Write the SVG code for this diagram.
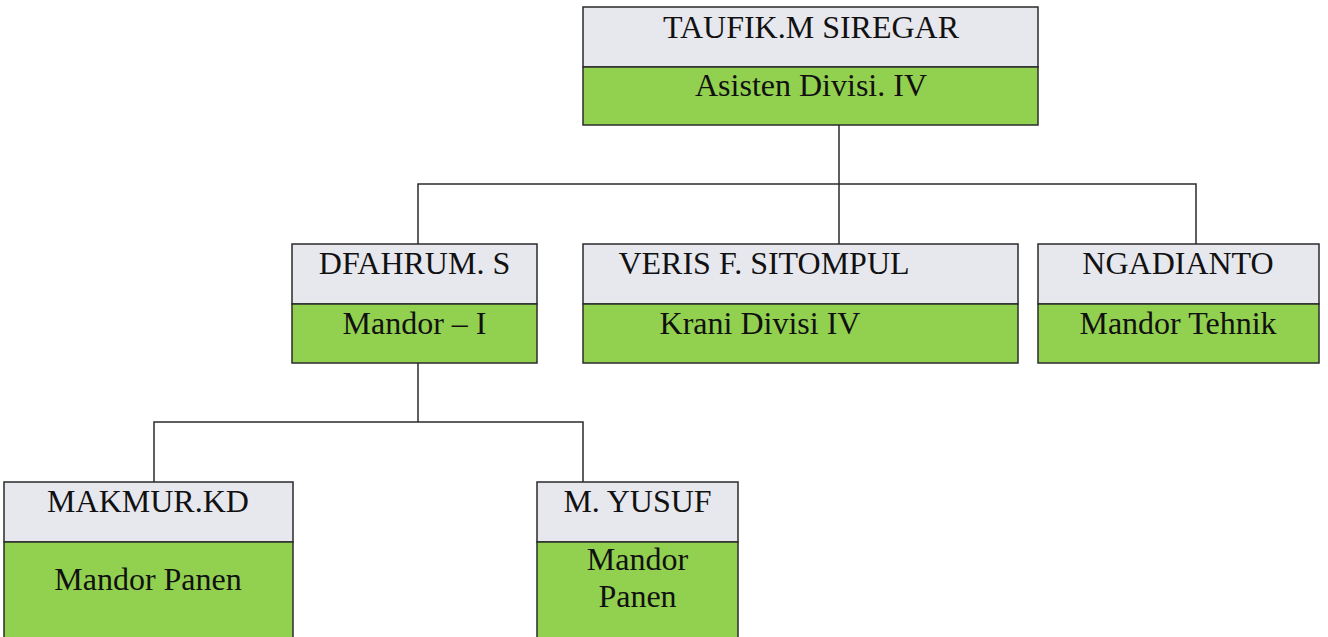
<svg xmlns="http://www.w3.org/2000/svg" width="1328" height="637" viewBox="0 0 1328 637">
<style>
.hd{fill:#e7e7ee;stroke:#2b2b2b;stroke-width:1.5}
.bd{fill:#92d050;stroke:#2b2b2b;stroke-width:1.5}
.t{font-family:"Liberation Serif","Times New Roman",serif;font-size:32px;fill:#111;text-anchor:middle}
.c{fill:none;stroke:#2b2b2b;stroke-width:1.5}
</style>
<rect width="1328" height="637" fill="#ffffff"/>
<g id="connectors">
<path class="c" d="M839 125V184M418 244V184H1196V244M839 184V244"/>
<path class="c" d="M418 363V422M154 482V422H583V482"/>
</g>
<g id="taufik">
<rect class="hd" x="583" y="7" width="455" height="60"/>
<rect class="bd" x="583" y="67" width="455" height="58"/>
<text class="t" x="811" y="38">TAUFIK.M SIREGAR</text>
<text class="t" x="811" y="96">Asisten Divisi. IV</text>
</g>
<g id="dfahrum">
<rect class="hd" x="292" y="244" width="245" height="60"/>
<rect class="bd" x="292" y="304" width="245" height="59"/>
<text class="t" x="414.5" y="274">DFAHRUM. S</text>
<text class="t" x="414.5" y="334">Mandor – I</text>
</g>
<g id="veris">
<rect class="hd" x="583" y="244" width="435" height="60"/>
<rect class="bd" x="583" y="304" width="435" height="59"/>
<text class="t" x="764" y="274">VERIS F. SITOMPUL</text>
<text class="t" x="760" y="334">Krani Divisi IV</text>
</g>
<g id="ngadianto">
<rect class="hd" x="1038" y="244" width="281" height="60"/>
<rect class="bd" x="1038" y="304" width="281" height="59"/>
<text class="t" x="1178" y="274">NGADIANTO</text>
<text class="t" x="1178" y="334">Mandor Tehnik</text>
</g>
<g id="makmur">
<rect class="hd" x="4" y="482" width="289" height="60"/>
<rect class="bd" x="4" y="542" width="289" height="100"/>
<text class="t" x="148" y="512">MAKMUR.KD</text>
<text class="t" x="148" y="590">Mandor Panen</text>
</g>
<g id="yusuf">
<rect class="hd" x="537" y="482" width="201" height="60"/>
<rect class="bd" x="537" y="542" width="201" height="100"/>
<text class="t" x="637.5" y="512">M. YUSUF</text>
<text class="t" x="637.5" y="570">Mandor</text>
<text class="t" x="637.5" y="607">Panen</text>
</g>
</svg>
